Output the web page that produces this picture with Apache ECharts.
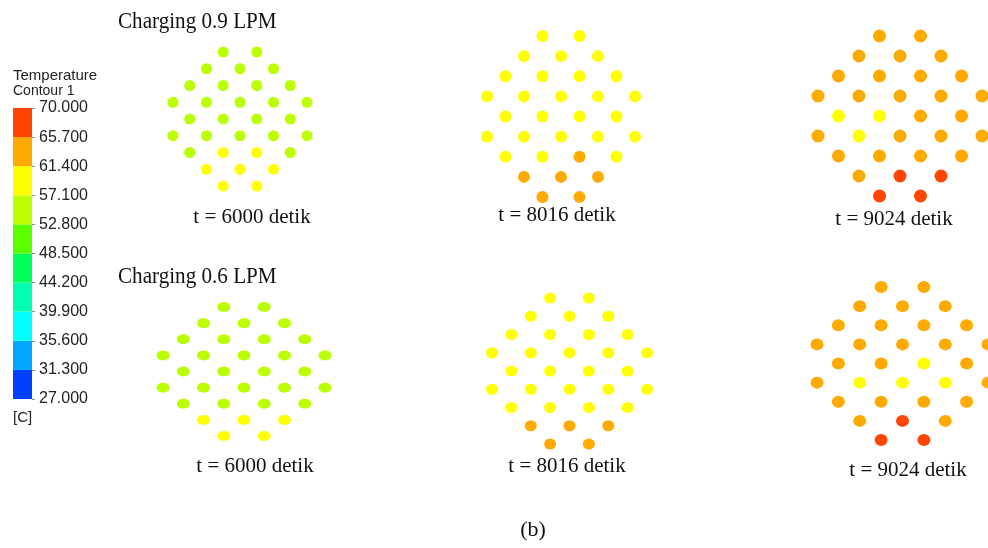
<!DOCTYPE html>
<html>
<head>
<meta charset="utf-8">
<script src="https://cdn.jsdelivr.net/npm/echarts@6/dist/echarts.min.js"></script>
<style>html,body{margin:0;padding:0;background:#fff}#c{width:988px;height:548px}</style>
</head>
<body>
<div id="c"></div>
<script>
// ---- colour scale (legend) ----
var bandEdges = [27.0, 31.3, 35.6, 39.9, 44.2, 48.5, 52.8, 57.1, 61.4, 65.7, 70.0];
var tickLabels = ['27.000','31.300','35.600','39.900','44.200','48.500','52.800','57.100','61.400','65.700','70.000'];
var bandColors = ['#0040ff','#00a8ff','#00ffff','#00ffb0','#00ff5a','#5cff00','#bbff00','#ffff00','#ffaa00','#ff4500'];

// ---- tube layout: dots per row (rows top to bottom) ----
var rowCounts = [2, 3, 4, 5, 4, 5, 4, 3, 2];

// ---- panel captions ----
var panelTitles = ['t = 6000 detik','t = 8016 detik','t = 9024 detik','t = 6000 detik','t = 8016 detik','t = 9024 detik'];
var rowTitles = ['Charging 0.9 LPM', 'Charging 0.6 LPM'];

// ---- temperatures (°C) per tube, row by row ----
var temp09_6000 = [55,55, 55,55,55, 55,55,55,55, 55,55,55,55,55, 55,55,55,55, 55,55,55,55,55, 55,58.5,59,55, 58.5,59,59, 59,59];
var temp09_8016 = [59,59, 59,59,59, 59,59,59,59, 59,59,59,59,59, 59,59,59,59, 59,59,59,59,59, 59,59,63,59, 63,63,63, 63,63];
var temp09_9024 = [63,63, 63,63,63, 63,63,63,63, 63,63,63,63,63, 59,60.5,63,63, 63,59,63,63,63, 63,63,63,63, 63,67.5,67.5, 67.5,67.5];
var temp06_6000 = [55,55, 55,55,55, 55,55,55,55, 55,55,55,55,55, 55,55,55,55, 55,55,55,55,55, 55,55,55,55, 59,59,59, 59,59];
var temp06_8016 = [59,59, 59,59,59, 59,59,59,59, 59,59,59,59,59, 59,59,59,59, 59,59,59,59,59, 59,59,59,59, 63,63,63, 63,63];
var temp06_9024 = [63,63, 63,63,63, 63,63,63,63, 63,63,63,63,63, 63,62,60.5,63, 63,59,59,59,63, 63,63,63,63, 63,67.5,63, 67.5,67.5];

var panelTemps = [temp09_6000, temp09_8016, temp09_9024, temp06_6000, temp06_8016, temp06_9024];

// layout (pixels) of each panel's lattice
var panelBoxes = [
  {left:173, width:134, top:52,  height:134, sym:[11,11], tx:252, ty:217},
  {left:487, width:148, top:36,  height:161, sym:[12,12], tx:557, ty:215},
  {left:818, width:164, top:36,  height:160, sym:[13,13], tx:894, ty:219},
  {left:163, width:162, top:307, height:129, sym:[13,10], tx:255, ty:466},
  {left:492, width:155, top:298, height:146, sym:[12,11], tx:567, ty:466},
  {left:817, width:171, top:287, height:153, sym:[13,12], tx:908, ty:470}
];

function buildPoints(temps){
  var pts = [], k = 0;
  for (var r = 0; r < rowCounts.length; r++){
    var n = rowCounts[r];
    for (var j = 0; j < n; j++){
      pts.push([j - (n - 1) / 2, r, temps[k++]]);
    }
  }
  return pts;
}

var grids = [], xAxes = [], yAxes = [], series = [];
// colour bar grid (index 0)
grids.push({left:13, top:108, width:19, height:291});
xAxes.push({type:'category', gridIndex:0, data:['T'], show:false});
yAxes.push({type:'value', gridIndex:0, min:0, max:10, interval:1, position:'right',
  axisLine:{show:false}, splitLine:{show:false},
  axisTick:{show:true, length:3, lineStyle:{color:'#888'}},
  axisLabel:{formatter:function(v){return tickLabels[v];}, fontFamily:'Liberation Sans', fontSize:16, color:'#222', margin:7}
});
for (var b = 0; b < bandColors.length; b++){
  series.push({type:'bar', xAxisIndex:0, yAxisIndex:0, stack:'cb', barWidth:'100%',
    data:[bandEdges[b+1] > bandEdges[b] ? 1 : 0], itemStyle:{color:bandColors[b], opacity:1}, silent:true});
}
var scatterIdx = [];
panelBoxes.forEach(function(p, i){
  var gi = i + 1;
  grids.push({left:p.left, width:p.width, top:p.top, height:p.height});
  xAxes.push({type:'value', gridIndex:gi, min:-2, max:2, show:false});
  yAxes.push({type:'value', gridIndex:gi, min:0, max:8, inverse:true, show:false});
  scatterIdx.push(series.length);
  series.push({type:'scatter', xAxisIndex:gi, yAxisIndex:gi, symbol:'circle', symbolSize:p.sym,
    clip:false, itemStyle:{opacity:1}, data:buildPoints(panelTemps[i]), silent:true});
});

var pieces = [];
for (var q = 0; q < bandColors.length; q++){
  pieces.push({gte:bandEdges[q], lt:bandEdges[q+1], color:bandColors[q], opacity:1});
}

var graphics = [];
graphics.push({type:'text', x:118, y:22, scaleX:0.88, style:{text:rowTitles[0], font:'24px "Liberation Serif"', fill:'#111', textVerticalAlign:'middle'}});
graphics.push({type:'text', x:118, y:277, scaleX:0.88, style:{text:rowTitles[1], font:'24px "Liberation Serif"', fill:'#111', textVerticalAlign:'middle'}});
panelBoxes.forEach(function(p, i){
  graphics.push({type:'text', x:p.tx, y:p.ty, style:{text:panelTitles[i], font:'21px "Liberation Serif"', fill:'#111', textAlign:'center', textVerticalAlign:'middle'}});
});
graphics.push({type:'text', x:533, y:530, style:{text:'(b)', font:'22px "Liberation Serif"', fill:'#111', textAlign:'center', textVerticalAlign:'middle'}});
graphics.push({type:'text', x:13, y:76, style:{text:'Temperature', font:'15px "Liberation Sans"', fill:'#222', textVerticalAlign:'middle'}});
graphics.push({type:'text', x:13, y:91, style:{text:'Contour 1', font:'14px "Liberation Sans"', fill:'#222', textVerticalAlign:'middle'}});
graphics.push({type:'text', x:13, y:418, style:{text:'[C]', font:'15px "Liberation Sans"', fill:'#222', textVerticalAlign:'middle'}});

var chart = echarts.init(document.getElementById('c'), null, {renderer:'canvas'});
chart.setOption({
  backgroundColor:'#ffffff',
  animation:false,
  grid:grids, xAxis:xAxes, yAxis:yAxes,
  visualMap:{type:'piecewise', show:false, dimension:2, seriesIndex:scatterIdx, pieces:pieces},
  series:series,
  graphic:graphics
});
</script>
</body>
</html>
